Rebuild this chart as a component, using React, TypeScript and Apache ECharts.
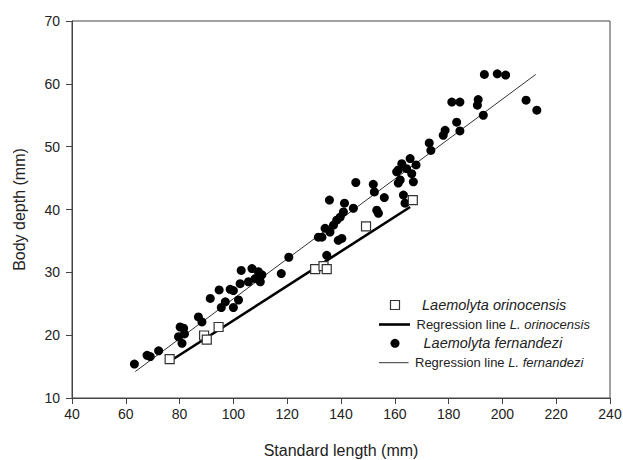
import React, { useEffect, useRef } from "react";
import * as echarts from "echarts";

// Laemolyta orinocensis (open squares)
const orinocensisSL = [76.3, 89.1, 90.1, 94.5, 130.4, 133.5, 134.7, 149.3, 166.7];
const orinocensisBD = [16.2, 19.95, 19.3, 21.3, 30.5, 31.0, 30.5, 37.3, 41.5];

// Laemolyta fernandezi (filled circles)
const fernandeziSL = [
  63.2, 67.9, 69.1, 72.2, 79.6, 80.2, 81.5, 80.9, 81.8, 87.0, 88.3, 91.4, 94.7, 95.5, 97.0,
  98.8, 100.0, 100.0, 101.9, 102.5, 102.9, 105.6, 106.9, 108.1, 109.3, 110.6, 110.0, 117.8,
  120.6, 131.6, 132.9, 134.1, 134.7, 135.9, 137.2, 139.0, 140.3, 138.4, 139.7, 140.9, 141.3,
  144.6, 135.7, 145.5, 152.0, 152.4, 153.3, 153.9, 156.1, 160.7, 161.3, 161.3, 162.6, 163.2,
  163.8, 164.4, 165.7, 166.3, 162.0, 166.9, 167.9, 172.8, 173.4, 178.0, 178.7, 183.0, 184.2,
  181.2, 184.2, 191.0, 190.7, 192.9, 193.3, 198.1, 201.2, 208.8, 212.8,
];
const fernandeziBD = [
  15.4, 16.8, 16.6, 17.5, 19.75, 21.3, 21.1, 18.7, 20.2, 22.9, 22.1, 25.85, 27.2, 24.4, 25.3,
  27.3, 27.1, 24.4, 25.6, 28.2, 30.3, 28.5, 30.6, 29.0, 30.1, 29.6, 28.5, 29.8,
  32.4, 35.6, 35.6, 37.0, 32.7, 36.4, 37.5, 35.1, 35.4, 38.3, 38.8, 39.6, 41.0,
  40.2, 41.5, 44.3, 44.0, 42.8, 39.9, 39.4, 41.9, 46.0, 44.2, 46.3, 47.3, 42.3,
  41.0, 46.5, 48.1, 45.7, 44.7, 44.4, 47.1, 50.6, 49.4, 51.8, 52.6, 53.9, 52.5,
  57.1, 57.1, 57.5, 56.6, 55.0, 61.5, 61.6, 61.4, 57.4, 55.8,
];

// Regression line end points
const orinocensisLineSL = [77.1, 165.7];
const orinocensisLineBD = [16.05, 40.4];
const fernandeziLineSL = [63.5, 212.4];
const fernandeziLineBD = [14.2, 61.5];

const xTicks = [40, 240, 20];
const yTicks = [10, 70, 10];

const FONT = "'Liberation Sans', Arial, sans-serif";

const zip = (a: number[], b: number[]) => a.map((v, i) => [v, b[i]]);

export default function App() {
  const ref = useRef<HTMLDivElement>(null);
  useEffect(() => {
    if (!ref.current) return;
    const chart = echarts.init(ref.current, undefined, { renderer: "svg" });
    const textColor = "#222";
    chart.setOption({
      animation: false,
      backgroundColor: "#fff",
      grid: {
        left: 72,
        right: 13,
        top: 21,
        bottom: 62,
        containLabel: false,
        outerBoundsMode: "none",
        show: true,
        borderColor: "#444",
        borderWidth: 1,
      },
      xAxis: {
        type: "value",
        min: xTicks[0],
        max: xTicks[1],
        interval: xTicks[2],
        name: "Standard length (mm)",
        nameLocation: "middle",
        nameGap: 44,
        nameTextStyle: { fontFamily: FONT, fontSize: 16, color: textColor },
        axisLine: { show: true, lineStyle: { color: "#444", width: 1 } },
        axisTick: { show: true, inside: false, length: 6, lineStyle: { color: "#444" } },
        axisLabel: { fontFamily: FONT, fontSize: 14, color: textColor, margin: 9 },
        splitLine: { show: false },
      },
      yAxis: {
        type: "value",
        min: yTicks[0],
        max: yTicks[1],
        interval: yTicks[2],
        name: "Body depth (mm)",
        nameLocation: "middle",
        nameGap: 45,
        nameTextStyle: { fontFamily: FONT, fontSize: 16, color: textColor },
        axisLine: { show: true, lineStyle: { color: "#444", width: 1 } },
        axisTick: { show: true, inside: false, length: 6, lineStyle: { color: "#444" } },
        axisLabel: { fontFamily: FONT, fontSize: 14, color: textColor, margin: 12 },
        splitLine: { show: false },
      },
      series: [
        {
          type: "line",
          data: zip(fernandeziLineSL, fernandeziLineBD),
          symbol: "none",
          lineStyle: { color: "#333", width: 1 },
          z: 2,
        },
        {
          type: "line",
          data: zip(orinocensisLineSL, orinocensisLineBD),
          symbol: "none",
          lineStyle: { color: "#000", width: 2.6 },
          z: 2,
        },
        {
          type: "scatter",
          data: zip(fernandeziSL, fernandeziBD),
          symbol: "circle",
          symbolSize: 9,
          itemStyle: { color: "#000", opacity: 1 },
          z: 3,
        },
        {
          type: "scatter",
          data: zip(orinocensisSL, orinocensisBD),
          symbol: "rect",
          symbolSize: 9,
          itemStyle: { color: "#fff", borderColor: "#333", borderWidth: 1.2, opacity: 1 },
          z: 4,
        },
      ],
      graphic: [
        {
          type: "rect",
          shape: { x: 390.5, y: 300.5, width: 9, height: 9 },
          style: { fill: "#fff", stroke: "#333", lineWidth: 1.2 },
        },
        {
          type: "text",
          x: 422,
          y: 305,
          style: {
            text: "Laemolyta orinocensis",
            font: `italic 14.5px ${FONT}`,
            fill: textColor,
            verticalAlign: "middle",
            align: "left",
          },
        },
        {
          type: "line",
          shape: { x1: 379, y1: 324.5, x2: 410, y2: 324.5 },
          style: { stroke: "#000", lineWidth: 2.6 },
        },
        {
          type: "text",
          x: 416.5,
          y: 324.5,
          style: {
            text: "{n|Regression line }{i|L. orinocensis}",
            verticalAlign: "middle",
            align: "left",
            fill: textColor,
            rich: {
              n: { fontFamily: FONT, fontSize: 13, fill: textColor, color: textColor },
              i: { fontFamily: FONT, fontSize: 13, fontStyle: "italic", fill: textColor, color: textColor },
            },
          },
        },
        {
          type: "circle",
          shape: { cx: 395, cy: 343.3, r: 4.5 },
          style: { fill: "#000" },
        },
        {
          type: "text",
          x: 423.5,
          y: 343.3,
          style: {
            text: "Laemolyta fernandezi",
            font: `italic 14.5px ${FONT}`,
            fill: textColor,
            verticalAlign: "middle",
            align: "left",
          },
        },
        {
          type: "line",
          shape: { x1: 379, y1: 362.7, x2: 408.5, y2: 362.7 },
          style: { stroke: "#333", lineWidth: 1 },
        },
        {
          type: "text",
          x: 415,
          y: 362.7,
          style: {
            text: "{n|Regression line }{i|L. fernandezi}",
            verticalAlign: "middle",
            align: "left",
            fill: textColor,
            rich: {
              n: { fontFamily: FONT, fontSize: 13, fill: textColor, color: textColor },
              i: { fontFamily: FONT, fontSize: 13, fontStyle: "italic", fill: textColor, color: textColor },
            },
          },
        },
      ],
    });
    return () => chart.dispose();
  }, []);
  return (
    <div
      ref={ref}
      style={{ position: "absolute", left: 0, top: 0, width: 623, height: 460 }}
    />
  );
}
